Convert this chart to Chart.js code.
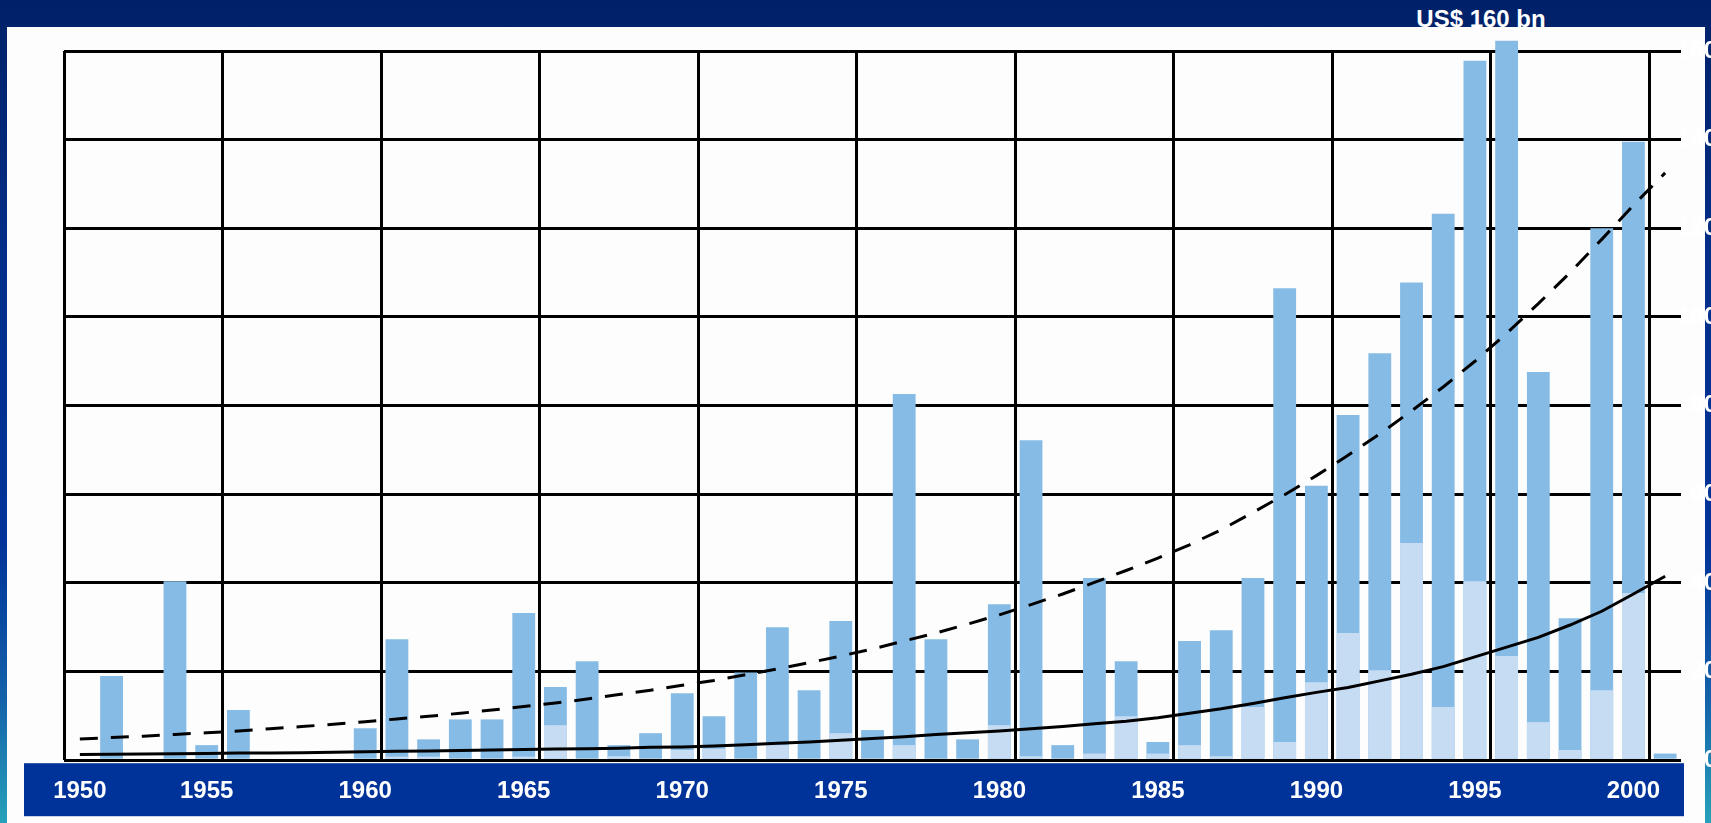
<!DOCTYPE html>
<html>
<head>
<meta charset="utf-8">
<title>Great natural catastrophes 1950-2000</title>
<script src="https://cdn.jsdelivr.net/npm/chart.js@4.4.1/dist/chart.umd.min.js"></script>
<style>
    html, body {
        margin: 0;
        padding: 0;
        width: 1711px;
        height: 823px;
        overflow: hidden;
    }
    body {
        position: relative;
        background: linear-gradient(to bottom, #00216a 0%, #00236c 4%, #002f8c 35%, #003399 66%, #1462aa 85%, #27a2b9 100%);
        font-family: "Liberation Sans", Arial, sans-serif;
    }
    #unit {
        position: absolute;
        left: 1381px;
        top: 7px;
        width: 200px;
        text-align: center;
        color: #fff;
        font: bold 24px/24px "Liberation Sans", Arial, sans-serif;
    }
    #panel {
        position: absolute;
        left: 7px;
        top: 27px;
        width: 1698px;
        height: 796px;
        background: #fdfdfd;
    }
    #wrap {
        position: absolute;
        left: 0;
        top: 0;
        width: 1720px;
        height: 823px;
    }
</style>
</head>
<body>
<div id="unit">US$ 160 bn</div>
<div id="panel"></div>
<div id="wrap"><canvas id="lossChart" width="1720" height="823"></canvas></div>

<script>
// Great natural catastrophes, losses per year in US$ bn
const years = [
    1950, 1951, 1952, 1953, 1954, 1955, 1956, 1957, 1958, 1959,
    1960, 1961, 1962, 1963, 1964, 1965, 1966, 1967, 1968, 1969,
    1970, 1971, 1972, 1973, 1974, 1975, 1976, 1977, 1978, 1979,
    1980, 1981, 1982, 1983, 1984, 1985, 1986, 1987, 1988, 1989,
    1990, 1991, 1992, 1993, 1994, 1995, 1996, 1997, 1998, 1999,
    2000
];

const economicLosses = [
    0, 19.0, 0, 40.4, 3.4, 11.3, 0, 0, 0, 7.2,
    27.3, 4.7, 9.2, 9.2, 33.2, 16.5, 22.3, 3.4, 6.1, 15.1,
    9.9, 19.8, 30.0, 15.8, 31.4, 6.8, 82.6, 27.3, 4.7, 35.2,
    72.2, 3.4, 41.1, 22.3, 4.1, 26.9, 29.3, 41.1, 106.5, 61.9,
    77.9, 91.8, 107.8, 123.3, 157.8, 162.3, 87.6, 32.0, 120.0, 139.5,
    1.5
];

const insuredLosses = [
    0, 0, 0, 0, 0, 0, 0, 0, 0, 0,
    0.8, 0.8, 0, 0, 0.8, 7.9, 0, 0.9, 0, 2.3,
    2.6, 0, 3.4, 0, 6.1, 0, 3.4, 0, 0, 7.9,
    0.9, 0, 1.5, 9.9, 1.5, 3.4, 0.9, 12.0, 4.1, 17.6,
    28.7, 20.3, 49.0, 12.0, 40.4, 23.5, 8.6, 2.3, 15.8, 37.7,
    0
];

// trend curves
const economicTrend = [
    4.8, 5.1, 5.4, 5.8, 6.2, 6.6, 7.1, 7.6, 8.1, 8.7,
    9.3, 9.9, 10.6, 11.3, 12.1, 12.9, 13.8, 14.8, 15.8, 16.9,
    18.0, 19.3, 20.6, 22.0, 23.5, 25.1, 26.9, 28.7, 30.7, 32.8,
    35.1, 37.5, 40.1, 42.8, 45.6, 48.6, 52.0, 55.9, 59.9, 64.2,
    68.8, 73.6, 78.8, 84.2, 90.0, 96.3, 103.0, 110.0, 117.5, 125.2,
    132.5
];

const insuredTrend = [
    1.3, 1.35, 1.4, 1.45, 1.5, 1.6, 1.65, 1.7, 1.8, 1.9,
    2.0, 2.1, 2.2, 2.3, 2.4, 2.5, 2.6, 2.7, 2.9, 3.0,
    3.2, 3.5, 3.8, 4.1, 4.5, 4.9, 5.3, 5.8, 6.2, 6.6,
    7.1, 7.6, 8.2, 8.8, 9.6, 10.6, 11.6, 12.8, 14.1, 15.3,
    16.4, 17.9, 19.4, 21.1, 23.3, 25.5, 27.7, 30.5, 33.6, 37.5,
    41.5
];

const yearTicks = [1950, 1955, 1960, 1965, 1970, 1975, 1980, 1985, 1990, 1995, 2000];
const lossTicks = [0, 20, 40, 60, 80, 100, 120, 140, 160];

const FONT = '"Liberation Sans", Arial, sans-serif';
const DARK_BLUE = '#86bbe5';
const LIGHT_BLUE = '#c6dcf3';
const BAND_BLUE = '#003399';

Chart.defaults.font.family = FONT;

// blue strip behind the year labels
const yearBand = {
    id: 'yearBand',
    beforeDraw(chart) {
        const { ctx, chartArea } = chart;
        ctx.save();
        ctx.fillStyle = BAND_BLUE;
        ctx.fillRect(chartArea.left - 40, chartArea.bottom + 3, chartArea.right - chartArea.left + 43, 53);
        ctx.restore();
    }
};

const ctx = document.getElementById('lossChart').getContext('2d');

new Chart(ctx, {
    data: {
        labels: years,
        datasets: [
            {
                type: 'line',
                label: 'Trend economic losses',
                data: economicTrend,
                borderColor: '#000',
                borderWidth: 3,
                borderDash: [18, 13],
                pointRadius: 0,
                fill: false,
                order: 0
            },
            {
                type: 'line',
                label: 'Trend insured losses',
                data: insuredTrend,
                borderColor: '#000',
                borderWidth: 3,
                pointRadius: 0,
                fill: false,
                order: 1
            },
            {
                type: 'bar',
                label: 'Insured losses',
                data: insuredLosses,
                backgroundColor: LIGHT_BLUE,
                grouped: false,
                barPercentage: 0.72,
                categoryPercentage: 1,
                clip: false,
                order: 2
            },
            {
                type: 'bar',
                label: 'Economic losses',
                data: economicLosses,
                backgroundColor: DARK_BLUE,
                grouped: false,
                barPercentage: 0.72,
                categoryPercentage: 1,
                clip: false,
                order: 3
            }
        ]
    },
    options: {
        responsive: false,
        devicePixelRatio: 1,
        animation: false,
        layout: {
            padding: { left: 64, top: 51, right: 3, bottom: 0 }
        },
        plugins: {
            legend: { display: false },
            tooltip: { enabled: false }
        },
        scales: {
            x: {
                type: 'category',
                offset: true,
                border: { display: false },
                grid: {
                    offset: true,
                    drawTicks: false,
                    lineWidth: 3,
                    // a vertical line at the start of every five-year block
                    color: (c) => (c.index !== undefined && c.index % 5 === 0) ? '#000' : 'rgba(0,0,0,0)'
                },
                ticks: {
                    autoSkip: false,
                    maxRotation: 0,
                    padding: 17,
                    color: '#fff',
                    font: { size: 24, weight: 'bold' },
                    // year labels sit under the last bar of each block, 1950 under the first bar
                    callback: (value, index) => {
                        const year = years[index];
                        if (index === 0) return String(year);
                        return yearTicks.includes(year + 1) ? String(year + 1) : '';
                    }
                }
            },
            y: {
                position: 'right',
                min: 0,
                max: 160,
                border: { display: false },
                grid: {
                    drawTicks: false,
                    color: '#000',
                    lineWidth: 3
                },
                ticks: {
                    crossAlign: 'far',
                    padding: 0,
                    color: '#fff',
                    font: { size: 24, weight: 'bold' }
                },
                afterBuildTicks: (scale) => {
                    scale.ticks = lossTicks.map(v => ({ value: v }));
                },
                afterFit: (scale) => {
                    scale.width = 36;
                }
            }
        }
    },
    plugins: [yearBand]
});
</script>
</body>
</html>
